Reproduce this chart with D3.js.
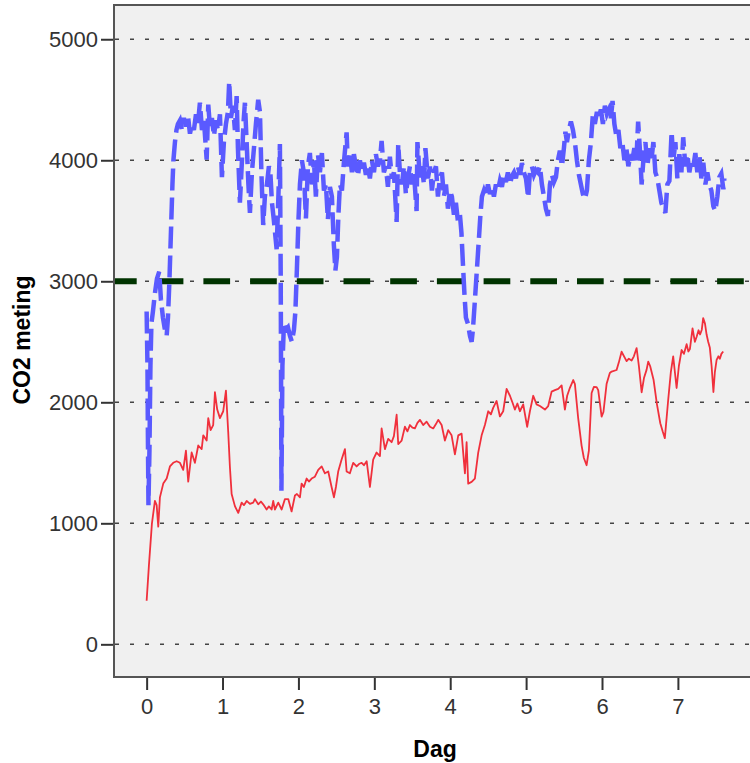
<!DOCTYPE html>
<html>
<head>
<meta charset="utf-8">
<script src="https://cdn.jsdelivr.net/npm/d3@7"></script>
<style>
  html, body { margin: 0; padding: 0; background: #ffffff; }
  svg { display: block; }
  text { font-family: "Liberation Sans", Arial, sans-serif; }
</style>
</head>
<body>
<svg id="chart" width="750" height="763"></svg>
<script>
// ---- DATA ----
const xTicks = [0, 1, 2, 3, 4, 5, 6, 7];
const yTicks = [0, 1000, 2000, 3000, 4000, 5000];
const referenceValue = 3000;
const xLabel = "Dag";
const yLabel = "CO2 meting";

// blue dashed series: [day, CO2]
const blueSeries = [
[0.000,2750],[0.011,2300],[0.017,1700],[0.024,1150],[0.037,1600],[0.050,2300],[0.063,2650],[0.083,2750],[0.109,2900],[0.136,3020],[0.166,3080],[0.188,2850],[0.215,2700],[0.241,2600],[0.264,2550],[0.281,2700],[0.300,3000],[0.320,3400],[0.340,3800],[0.353,4000],[0.373,4150],[0.393,4250],[0.412,4300],[0.439,4330],
[0.465,4250],[0.491,4350],[0.518,4280],[0.544,4370],[0.571,4220],[0.597,4300],[0.623,4250],[0.650,4380],[0.676,4300],[0.702,4475],[0.729,4250],[0.755,4330],[0.791,4006],[0.812,4460],[0.834,4280],[0.860,4350],[0.887,4200],[0.913,4330],[0.939,4250],[0.966,4380],[0.992,3860],[1.018,4150],[1.045,4300],[1.071,4400],[1.088,4650],[1.111,4350],[1.137,4450],[1.163,4250],[1.186,4530],[1.203,4100],[1.229,3650],[1.256,4000],[1.275,4300],[1.295,4475],[1.321,4100],[1.341,3800],[1.361,3565],[1.387,3900],[1.414,4100],[1.440,4300],[1.470,4500],[1.493,4400],[1.512,3900],[1.536,3465],[1.558,3700],[1.585,3800],[1.611,3950],[1.631,3890],[1.651,3650],[1.677,3500],[1.713,3265],[1.736,3700],[1.756,4134],[1.767,3000],[1.776,1270],[1.789,2300],[1.809,2650],[1.835,2600],[1.862,2620],[1.888,2550],[1.914,2500],[1.941,2600],[1.960,2750],[1.980,3100],[2.000,3500],[2.020,3800],[2.046,4000],
[2.072,3900],[2.099,3520],[2.125,3950],[2.151,4060],[2.178,3800],[2.204,4000],[2.230,3700],[2.257,4050],[2.283,3900],[2.309,4060],[2.336,3750],[2.362,3800],[2.388,3510],[2.415,3780],[2.441,3700],[2.467,3300],[2.487,3090],[2.507,3200],[2.527,3550],[2.547,3800],[2.573,3750],[2.599,3980],[2.635,4230],[2.652,3950],[2.678,4060],[2.705,3900],[2.731,4050],[2.757,3950],[2.784,3870],[2.810,4000],[2.836,3900],[2.863,3980],[2.889,3880],[2.915,3950],[2.942,3850],[2.968,4000],[2.995,3900],[3.021,4050],[3.047,3950],[3.074,4000],[3.096,4160],[3.126,3900],[3.152,3950],[3.179,3780],[3.205,4030],[3.232,3850],[3.258,3900],[3.294,3490],[3.315,4134],[3.337,3900],[3.364,3800],[3.390,3950],[3.416,3720],[3.443,3850],[3.469,3950],[3.495,3800],[3.522,3900],[3.557,3580],[3.568,4150],[3.601,3850],[3.627,3950],[3.654,3800],[3.673,4100],[3.706,3850],[3.733,3950],[3.759,3750],[3.785,3900],[3.812,3950],[3.838,3700],[3.864,3850],[3.891,3900],[3.917,3700],[3.944,3800],[3.970,3600],[3.996,3750],
[4.022,3700],[4.049,3550],[4.075,3650],[4.101,3500],[4.128,3550],[4.148,3400],[4.167,3150],[4.187,2900],[4.207,2700],[4.233,2650],[4.260,2550],[4.282,2500],[4.299,2600],[4.326,2850],[4.352,3100],[4.378,3350],[4.398,3550],[4.418,3700],[4.444,3750],[4.471,3700],[4.497,3800],[4.523,3720],[4.550,3780],[4.576,3700],[4.602,3800],[4.629,3750],[4.655,3830],[4.681,3780],[4.708,3880],[4.734,3820],[4.760,3900],[4.787,3800],[4.813,3870],[4.840,3900],[4.866,3850],[4.892,3950],[4.919,3880],[4.945,3977],[4.971,3900],[4.998,3850],[5.028,3690],[5.050,3900],[5.077,3950],[5.103,3880],[5.129,3920],[5.156,3900],[5.182,3950],[5.208,3800],[5.235,3700],[5.261,3600],[5.287,3540],[5.314,3800],[5.340,3880],[5.366,3820],[5.393,3860],[5.419,4000],[5.445,4080],[5.472,3950],[5.498,4100],[5.518,4236],[5.538,4150],[5.564,4250],[5.590,4320],[5.617,4250],[5.643,4150],[5.669,4000],[5.696,3880],[5.722,3800],[5.748,3720],[5.775,3680],[5.801,3750],[5.827,4000],[5.854,4150],[5.880,4380],[5.906,4300],[5.933,4400],[5.959,4350],[5.985,4420],
[6.012,4300],[6.038,4450],[6.064,4380],[6.091,4420],[6.117,4350],[6.139,4490],[6.163,4300],[6.189,4200],[6.216,4250],[6.242,4100],[6.268,4150],[6.295,4000],[6.321,4100],[6.347,3950],[6.374,4050],[6.400,4000],[6.426,4100],[6.453,4000],[6.476,4320],[6.498,4100],[6.522,3800],[6.545,4000],[6.572,4150],[6.598,3950],[6.624,4100],[6.651,4000],[6.677,4150],[6.703,3900],[6.730,3850],[6.756,3750],[6.782,3650],[6.809,3600],[6.835,3565],[6.861,3800],[6.888,3830],[6.917,4236],[6.940,4000],[6.967,4150],[6.993,3850],[7.019,4050],[7.046,3900],[7.070,4190],[7.098,3950],[7.125,4050],[7.151,3900],[7.177,4000],[7.204,3950],[7.230,4060],[7.256,3900],[7.283,4050],[7.309,3850],[7.335,3980],[7.362,3800],[7.388,3900],[7.414,3800],[7.441,3750],[7.467,3620],[7.493,3580],[7.520,3700],[7.546,3860],[7.572,3890],[7.599,3760],[7.612,3850]
];

// red solid series: [day, CO2]
const redSeries = [
[0.000,360],[0.030,650],[0.070,1000],[0.109,1185],[0.132,1150],[0.153,972],[0.175,1214],[0.219,1328],[0.264,1370],[0.307,1470],[0.350,1500],[0.395,1513],[0.439,1500],[0.482,1442],[0.518,1600],[0.548,1344],[0.593,1585],[0.636,1500],[0.680,1643],[0.725,1613],[0.746,1727],[0.791,1684],[0.812,1869],[0.843,1770],[0.877,1812],[0.900,2083],[0.930,1940],[0.966,1869],[1.009,1926],[1.045,2097],[1.075,1755],[1.097,1468],[1.120,1242],[1.163,1142],[1.207,1086],[1.252,1171],[1.282,1150],[1.318,1185],[1.361,1160],[1.404,1171],[1.427,1200],[1.470,1157],[1.506,1180],[1.536,1157],[1.581,1114],[1.611,1140],[1.647,1114],[1.668,1185],[1.690,1114],[1.734,1171],[1.779,1114],[1.822,1200],[1.866,1200],[1.910,1098],[1.954,1230],[1.980,1242],
[2.020,1214],[2.042,1328],[2.072,1300],[2.108,1370],[2.138,1345],[2.174,1370],[2.217,1385],[2.261,1442],[2.306,1470],[2.349,1413],[2.393,1428],[2.437,1300],[2.468,1214],[2.494,1300],[2.524,1428],[2.569,1527],[2.613,1613],[2.635,1428],[2.678,1413],[2.722,1500],[2.767,1470],[2.797,1490],[2.833,1500],[2.863,1480],[2.899,1513],[2.942,1300],[2.985,1527],[3.030,1585],[3.074,1556],[3.096,1784],[3.140,1613],[3.183,1698],[3.228,1670],[3.258,1720],[3.294,1897],[3.315,1655],[3.360,1684],[3.403,1798],[3.436,1760],[3.469,1812],[3.502,1790],[3.535,1784],[3.568,1830],[3.601,1855],[3.644,1812],[3.689,1840],[3.733,1798],[3.776,1784],[3.812,1820],[3.842,1855],[3.887,1812],[3.930,1684],[3.974,1770],
[4.018,1727],[4.062,1570],[4.106,1727],[4.150,1741],[4.194,1413],[4.216,1670],[4.237,1328],[4.282,1342],[4.325,1370],[4.369,1584],[4.414,1727],[4.457,1812],[4.501,1926],[4.536,1900],[4.566,1954],[4.611,2011],[4.655,1883],[4.698,1926],[4.743,2111],[4.787,2054],[4.819,2000],[4.852,1940],[4.885,1990],[4.918,1926],[4.962,1983],[5.014,1798],[5.050,1926],[5.094,2054],[5.138,1983],[5.182,1969],[5.248,1940],[5.291,1969],[5.336,2088],[5.379,2100],[5.423,2111],[5.468,2140],[5.511,1940],[5.541,2054],[5.577,2120],[5.621,2184],[5.643,2150],[5.686,1869],[5.731,1642],[5.761,1540],[5.797,1480],[5.827,1600],[5.863,2077],[5.893,2127],[5.929,2126],[5.950,2100],[5.995,1881],
[6.019,1920],[6.061,2154],[6.103,2242],[6.127,2254],[6.192,2267],[6.222,2330],[6.258,2418],[6.324,2340],[6.354,2360],[6.390,2345],[6.420,2380],[6.456,2448],[6.486,2300],[6.522,2083],[6.553,2200],[6.587,2268],[6.609,2336],[6.634,2300],[6.680,2184],[6.724,1983],[6.768,1827],[6.799,1760],[6.828,1704],[6.872,2019],[6.907,2250],[6.938,2380],[6.983,2118],[7.013,2300],[7.049,2432],[7.079,2400],[7.115,2480],[7.138,2420],[7.158,2440],[7.193,2610],[7.224,2500],[7.246,2540],[7.272,2595],[7.292,2560],[7.315,2600],[7.333,2696],[7.357,2650],[7.378,2560],[7.399,2500],[7.421,2450],[7.444,2300],[7.468,2085],[7.487,2250],[7.510,2350],[7.533,2380],[7.553,2360],[7.573,2400],[7.597,2420]
];

// ---- LAYOUT ----
const svg = d3.select("#chart");
const plot = { left: 114, top: 5, right: 750, bottom: 677 };

const x = d3.scaleLinear().domain([-0.43, 7.95]).range([plot.left, plot.right]);
const y = d3.scaleLinear().domain([-270, 5283]).range([plot.bottom, plot.top]);

svg.append("defs").append("clipPath").attr("id", "clip")
  .append("rect")
  .attr("x", plot.left).attr("y", plot.top)
  .attr("width", 760 - plot.left).attr("height", plot.bottom - plot.top);

// background
svg.append("rect")
  .attr("x", plot.left).attr("y", plot.top)
  .attr("width", 760 - plot.left).attr("height", plot.bottom - plot.top)
  .attr("fill", "#f0f0f0");

const g = svg.append("g").attr("clip-path", "url(#clip)");

// gridlines
g.selectAll("line.grid").data(yTicks).enter().append("line")
  .attr("class", "grid")
  .attr("x1", plot.left).attr("x2", 760)
  .attr("y1", d => y(d)).attr("y2", d => y(d))
  .attr("stroke", "#444")
  .attr("stroke-width", 1.5)
  .attr("stroke-dasharray", "4,11")
  .attr("stroke-dashoffset", -1);

// reference line
g.append("line")
  .attr("x1", plot.left).attr("x2", 760)
  .attr("y1", y(referenceValue)).attr("y2", y(referenceValue))
  .attr("stroke", "#003300")
  .attr("stroke-width", 6)
  .attr("stroke-dasharray", "26.7,20")
  .attr("stroke-dashoffset", 4);

const line = d3.line().x(d => x(d[0])).y(d => y(d[1]));

g.append("path").datum(redSeries)
  .attr("d", line)
  .attr("fill", "none")
  .attr("stroke", "#f0303c")
  .attr("stroke-width", 1.8)
  .attr("stroke-linejoin", "round");

g.append("path").datum(blueSeries)
  .attr("d", line)
  .attr("fill", "none")
  .attr("stroke", "#5a5aff")
  .attr("stroke-width", 4.5)
  .attr("stroke-dasharray", "22,7");

// frame
svg.append("rect")
  .attr("x", plot.left).attr("y", plot.top)
  .attr("width", 760 - plot.left).attr("height", plot.bottom - plot.top)
  .attr("fill", "none")
  .attr("stroke", "#555")
  .attr("stroke-width", 2);

// axes
const yAxis = d3.axisLeft(y).tickValues(yTicks).tickSize(12).tickPadding(3).tickFormat(d3.format("d"));
const ya = svg.append("g").attr("transform", `translate(${plot.left - 1},0)`).call(yAxis);
ya.select(".domain").remove();
ya.selectAll(".tick line").attr("stroke", "#333").attr("stroke-width", 2);
ya.selectAll(".tick text").attr("font-size", 22).attr("fill", "#333")
  .attr("font-family", "'Liberation Sans', Arial, sans-serif");

const xAxis = d3.axisBottom(x).tickValues(xTicks).tickSize(12).tickPadding(8).tickFormat(d3.format("d"));
const xa = svg.append("g").attr("transform", `translate(0,${plot.bottom + 1})`).call(xAxis);
xa.select(".domain").remove();
xa.selectAll(".tick line").attr("stroke", "#333").attr("stroke-width", 2);
xa.selectAll(".tick text").attr("font-size", 22).attr("fill", "#333")
  .attr("font-family", "'Liberation Sans', Arial, sans-serif");

// axis titles
svg.append("text")
  .attr("x", 435).attr("y", 756.5)
  .attr("text-anchor", "middle")
  .attr("font-size", 23).attr("font-weight", "bold").attr("fill", "#000")
  .text(xLabel);

svg.append("text")
  .attr("transform", "translate(30,340) rotate(-90)")
  .attr("text-anchor", "middle")
  .attr("font-size", 23).attr("font-weight", "bold").attr("fill", "#000")
  .text(yLabel);
</script>
</body>
</html>
